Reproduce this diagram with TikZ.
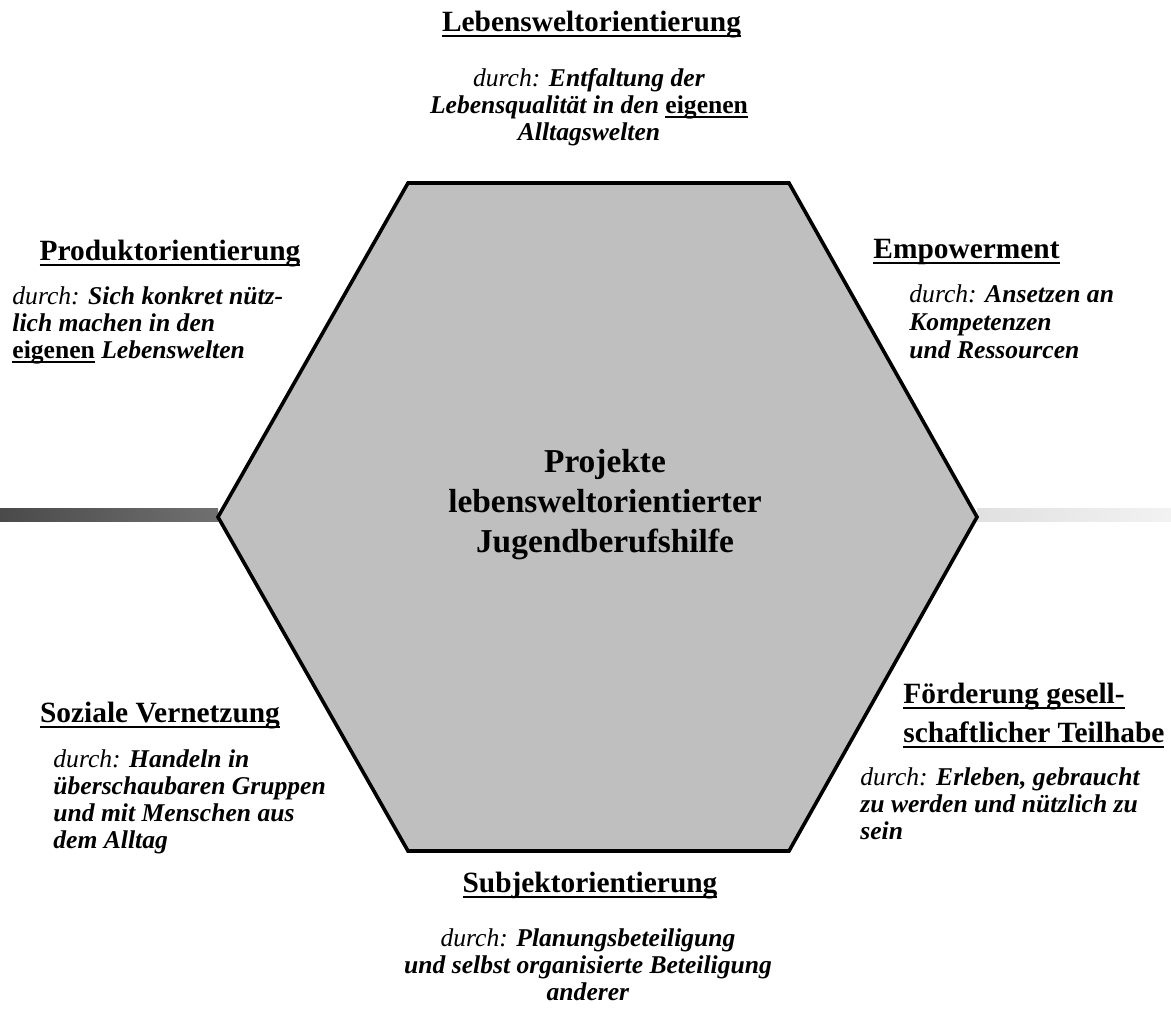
\documentclass[tikz,border=0pt]{standalone}
\usepackage{fontspec}
\setmainfont{Liberation Serif}

% underlines drawn as rules below the baseline
\newsavebox{\ulbox}
\newcommand{\hul}[1]{\sbox{\ulbox}{#1}\rlap{\rule[-3.2pt]{\wd\ulbox}{1.2pt}}\usebox{\ulbox}}
\newcommand{\bul}[1]{\sbox{\ulbox}{#1}\rlap{\rule[-2.6pt]{\wd\ulbox}{1pt}}\usebox{\ulbox}}
\newcommand{\durch}{\textit{\mdseries durch:}}
\newcommand{\bi}[1]{\textbf{\textit{#1}}}

\tikzset{
  heading/.style={inner sep=0pt, font=\bfseries\fontsize{14.7}{19.5}\selectfont},
  detail/.style={inner sep=0pt, font=\fontsize{12.8}{13.5}\selectfont},
  centre/.style={inner sep=0pt, font=\bfseries\fontsize{16.7}{20}\selectfont},
  hexagon/.style={fill=black!25, draw=black, line width=1.8pt, line join=miter},
}

\begin{document}
\begin{tikzpicture}[x=0.5pt,y=-0.5pt]
\useasboundingbox (0,0) rectangle (1171,1023);

% corners of the hexagon
\coordinate (hexTL) at (408,183);
\coordinate (hexTR) at (789,183);
\coordinate (hexR) at (977,517);
\coordinate (hexBR) at (789,851);
\coordinate (hexBL) at (408,851);
\coordinate (hexL) at (218,517);

% side bars
\coordinate (barLa) at (0,508);
\coordinate (barLb) at (218,521);
\coordinate (barRa) at (977,508);
\coordinate (barRb) at (1171,521);
\shade[left color=black!71, right color=black!56] (barLa) rectangle (barLb);
\shade[left color=black!12, right color=black!5] (barRa) rectangle (barRb);

\filldraw[hexagon] (hexTL) -- (hexTR) -- (hexR) -- (hexBR) -- (hexBL) -- (hexL) -- cycle;

\node[centre, anchor=base] (projekte) at (605,472)
  {\begin{tabular}[t]{@{}c@{}}Projekte\\lebensweltorientierter\\Jugendberufshilfe\end{tabular}};

% top
\node[heading, anchor=base] (lwHead) at (591.5,31) {\hul{Lebensweltorientierung}};
\node[detail, anchor=base] (lwText) at (589,86)
  {\begin{tabular}[t]{@{}c@{}}\durch{} \bi{Entfaltung der}\\
   \bi{Lebensqualität in den} \bul{\textbf{eigenen}}\\
   \bi{Alltagswelten}\end{tabular}};

% upper left
\node[heading, anchor=base] (prHead) at (170,260) {\hul{Produktorientierung}};
\node[detail, anchor=base west] (prText) at (12,304)
  {\begin{tabular}[t]{@{}l@{}}\durch{} \bi{Sich konkret nütz-}\\
   \bi{lich machen in den}\\
   \bul{\textbf{eigenen}} \bi{Lebenswelten}\end{tabular}};

% upper right
\node[heading, anchor=base west] (emHead) at (873,258) {\hul{Empowerment}};
\node[detail, anchor=base west] (emText) at (909,302)
  {\begin{tabular}[t]{@{}l@{}}\durch{} \bi{Ansetzen an}\\[0.5pt]
   \bi{Kompetenzen}\\[0.5pt]
   \bi{und Ressourcen}\end{tabular}};

% lower left
\node[heading, anchor=base] (soHead) at (160,722) {\hul{Soziale Vernetzung}};
\node[detail, anchor=base west] (soText) at (53,767)
  {\begin{tabular}[t]{@{}l@{}}\durch{} \bi{Handeln in}\\
   \bi{überschaubaren Gruppen}\\
   \bi{und mit Menschen aus}\\
   \bi{dem Alltag}\end{tabular}};

% lower right
\node[heading, anchor=base west] (foHead) at (903,703)
  {\begin{tabular}[t]{@{}l@{}}\hul{Förderung gesell-}\\\hul{schaftlicher Teilhabe}\end{tabular}};
\node[detail, anchor=base west] (foText) at (860,785)
  {\begin{tabular}[t]{@{}l@{}}\durch{} \bi{Erleben, gebraucht}\\
   \bi{zu werden und nützlich zu}\\
   \bi{sein}\end{tabular}};

% bottom
\node[heading, anchor=base] (suHead) at (590,892) {\hul{Subjektorientierung}};
\node[detail, anchor=base] (suText) at (588,946)
  {\begin{tabular}[t]{@{}c@{}}\durch{} \bi{Planungsbeteiligung}\\
   \bi{und selbst organisierte Beteiligung}\\
   \bi{anderer}\end{tabular}};
\end{tikzpicture}
\end{document}
